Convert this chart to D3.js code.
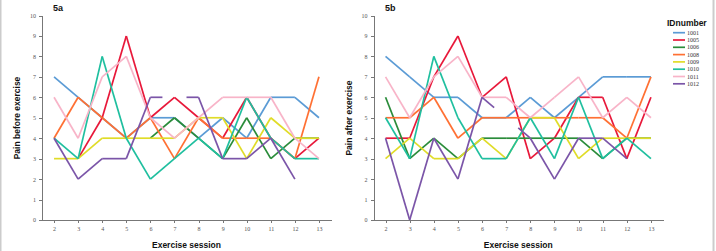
<!DOCTYPE html>
<html lang="en">
<head>
<meta charset="utf-8"/>
<title>Pain before / after exercise</title>
<style>
    body { margin: 0; background: #fff; }
    .tick text { font: 6px "Liberation Serif", serif; fill: #555; }
    .axis path, .axis line { stroke: #777; fill: none; shape-rendering: crispEdges; }
    .title { font: bold 8.5px "Liberation Sans", Arial, sans-serif; fill: #111; }
    .panel { font: bold 9px "Liberation Sans", Arial, sans-serif; fill: #111; }
    .legend .item { font: 6px "Liberation Serif", serif; fill: #333; }
    .legend .ltitle { font: bold 8.5px "Liberation Sans", Arial, sans-serif; fill: #111; }
</style>
</head>
<body>
<div id="graph"></div>
<script src="https://d3js.org/d3.v7.min.js"></script>
<script>
    var sessions = [2, 3, 4, 5, 6, 7, 8, 9, 10, 11, 12, 13];
    var ids = ["1001", "1005", "1006", "1008", "1009", "1010", "1011", "1012"];
    var colors = ["#5b9bd5", "#e8183a", "#2a8c3a", "#ff7033", "#e0dc28", "#1fbf9f", "#f8b4c8", "#7b55a8"];
    var yTicks = [0, 1, 2, 3, 4, 5, 6, 7, 8, 9, 10];

    // pain before exercise (5a), one row per ID, null = missing
    var painBefore = [
        [7, 6, 5, 4, 5, 5, 4, 5, 4, 6, 6, 5],
        [null, 3, 5, 9, 5, 6, 5, 4, 6, 4, 3, 4],
        [null, null, null, null, 4, 5, 4, 3, 5, 3, 4, 4],
        [4, 6, 5, 4, 5, 3, 5, 4, 4, 4, 3, 7],
        [3, 3, 4, 4, 4, 4, 5, 5, 3, 5, 4, 4],
        [4, 3, 8, 4, 2, 3, 4, 3, 6, 4, 3, 3],
        [6, 4, 7, 8, 5, 4, 5, 6, 6, 6, 4, 3],
        [4, 2, 3, 3, 6, null, 6, 3, 3, 4, 2, null]
    ];

    // pain after exercise (5b)
    var painAfter = [
        [8, 7, 6, 6, 5, 5, 6, 5, 6, 7, 7, 7],
        [4, 4, 7, 9, 6, 7, 3, 4, 6, 6, 3, 6],
        [6, 3, 4, 3, 4, 4, 4, 4, 4, 3, 4, 4],
        [5, 5, 6, 4, 5, 5, 5, 5, 5, 5, 4, 7],
        [3, 4, 3, 3, 4, 3, 5, 5, 3, 4, 4, 4],
        [5, 3, 8, 5, 3, 3, 5, 3, 6, 3, 4, 3],
        [7, 5, 7, 8, 6, 6, 5, 6, 7, 5, 6, 5],
        [4, 0, 4, 2, 6, null, 4, 2, 4, 4, 3, null]
    ];

    var width = 716, height = 251;

    var svg = d3.select("#graph").append("svg")
        .attr("width", width)
        .attr("height", height);

    svg.append("rect")
        .attr("x", 0.5).attr("y", -1)
        .attr("width", width - 3).attr("height", height + 2)
        .attr("fill", "none").attr("stroke", "#ccc").attr("stroke-width", 2);

    var y = d3.scaleLinear().domain([0, 10]).range([220, 15.5]);

    function drawPanel(left, right, values, label, yTitle, titleX) {
        var x = d3.scaleLinear().domain([1.5, 13.5]).range([left, right]);
        var g = svg.append("g");

        g.append("g")
            .attr("class", "axis")
            .attr("transform", "translate(0,220)")
            .call(d3.axisBottom(x).tickValues(sessions).tickSize(3).tickSizeOuter(0).tickPadding(4));

        g.append("g")
            .attr("class", "axis")
            .attr("transform", "translate(" + left + ",0)")
            .call(d3.axisLeft(y).tickValues(yTicks).tickSize(3).tickSizeOuter(0).tickPadding(3));

        var line = d3.line()
            .x(function (d) { return x(d[0]); })
            .y(function (d) { return y(d[1]); });

        values.forEach(function (row, i) {
            var pts = [];
            row.forEach(function (v, j) { if (v !== null) pts.push([sessions[j], v, j]); });
            var segs = [];
            for (var k = 0; k < pts.length - 1; k++) {
                var a = pts[k], b = pts[k + 1], gap = b[2] - a[2];
                if (gap === 1) {
                    segs.push([a, b]);
                } else {
                    // broken line across missing sessions: half a session stub at each end
                    var f = 0.5 / gap;
                    segs.push([a, [a[0] + (b[0] - a[0]) * f, a[1] + (b[1] - a[1]) * f]]);
                    segs.push([[b[0] - (b[0] - a[0]) * f, b[1] - (b[1] - a[1]) * f], b]);
                }
            }
            g.selectAll(null)
                .data(segs)
                .enter()
                .append("path")
                .attr("d", line)
                .attr("fill", "none")
                .attr("stroke", colors[i])
                .attr("stroke-width", 1.7)
                .attr("stroke-linecap", "butt");
        });

        g.append("text")
            .attr("class", "panel")
            .attr("x", titleX).attr("y", 11)
            .text(label);

        g.append("text")
            .attr("class", "title")
            .attr("x", (left + right) / 2).attr("y", 248)
            .attr("text-anchor", "middle")
            .text("Exercise session");

        g.append("text")
            .attr("class", "title")
            .attr("transform", "translate(" + (left - 22) + ",118) rotate(-90)")
            .attr("text-anchor", "middle")
            .text(yTitle);
    }

    drawPanel(42, 331, painBefore, "5a", "Pain before exercise", 53);
    drawPanel(373.5, 663, painAfter, "5b", "Pain after exercise", 385);

    var legend = svg.append("g").attr("class", "legend");
    legend.append("text")
        .attr("class", "ltitle")
        .attr("x", 667).attr("y", 26)
        .text("IDnumber");

    var rows = legend.selectAll(".row")
        .data(ids)
        .enter()
        .append("g")
        .attr("class", "row")
        .attr("transform", function (d, i) { return "translate(0," + (32.7 + i * 7.3) + ")"; });
    rows.append("line")
        .attr("x1", 673).attr("x2", 685)
        .attr("stroke", function (d, i) { return colors[i]; })
        .attr("stroke-width", 1.7);
    rows.append("text")
        .attr("class", "item")
        .attr("x", 687).attr("y", 2)
        .text(function (d) { return d; });
</script>
</body>
</html>
